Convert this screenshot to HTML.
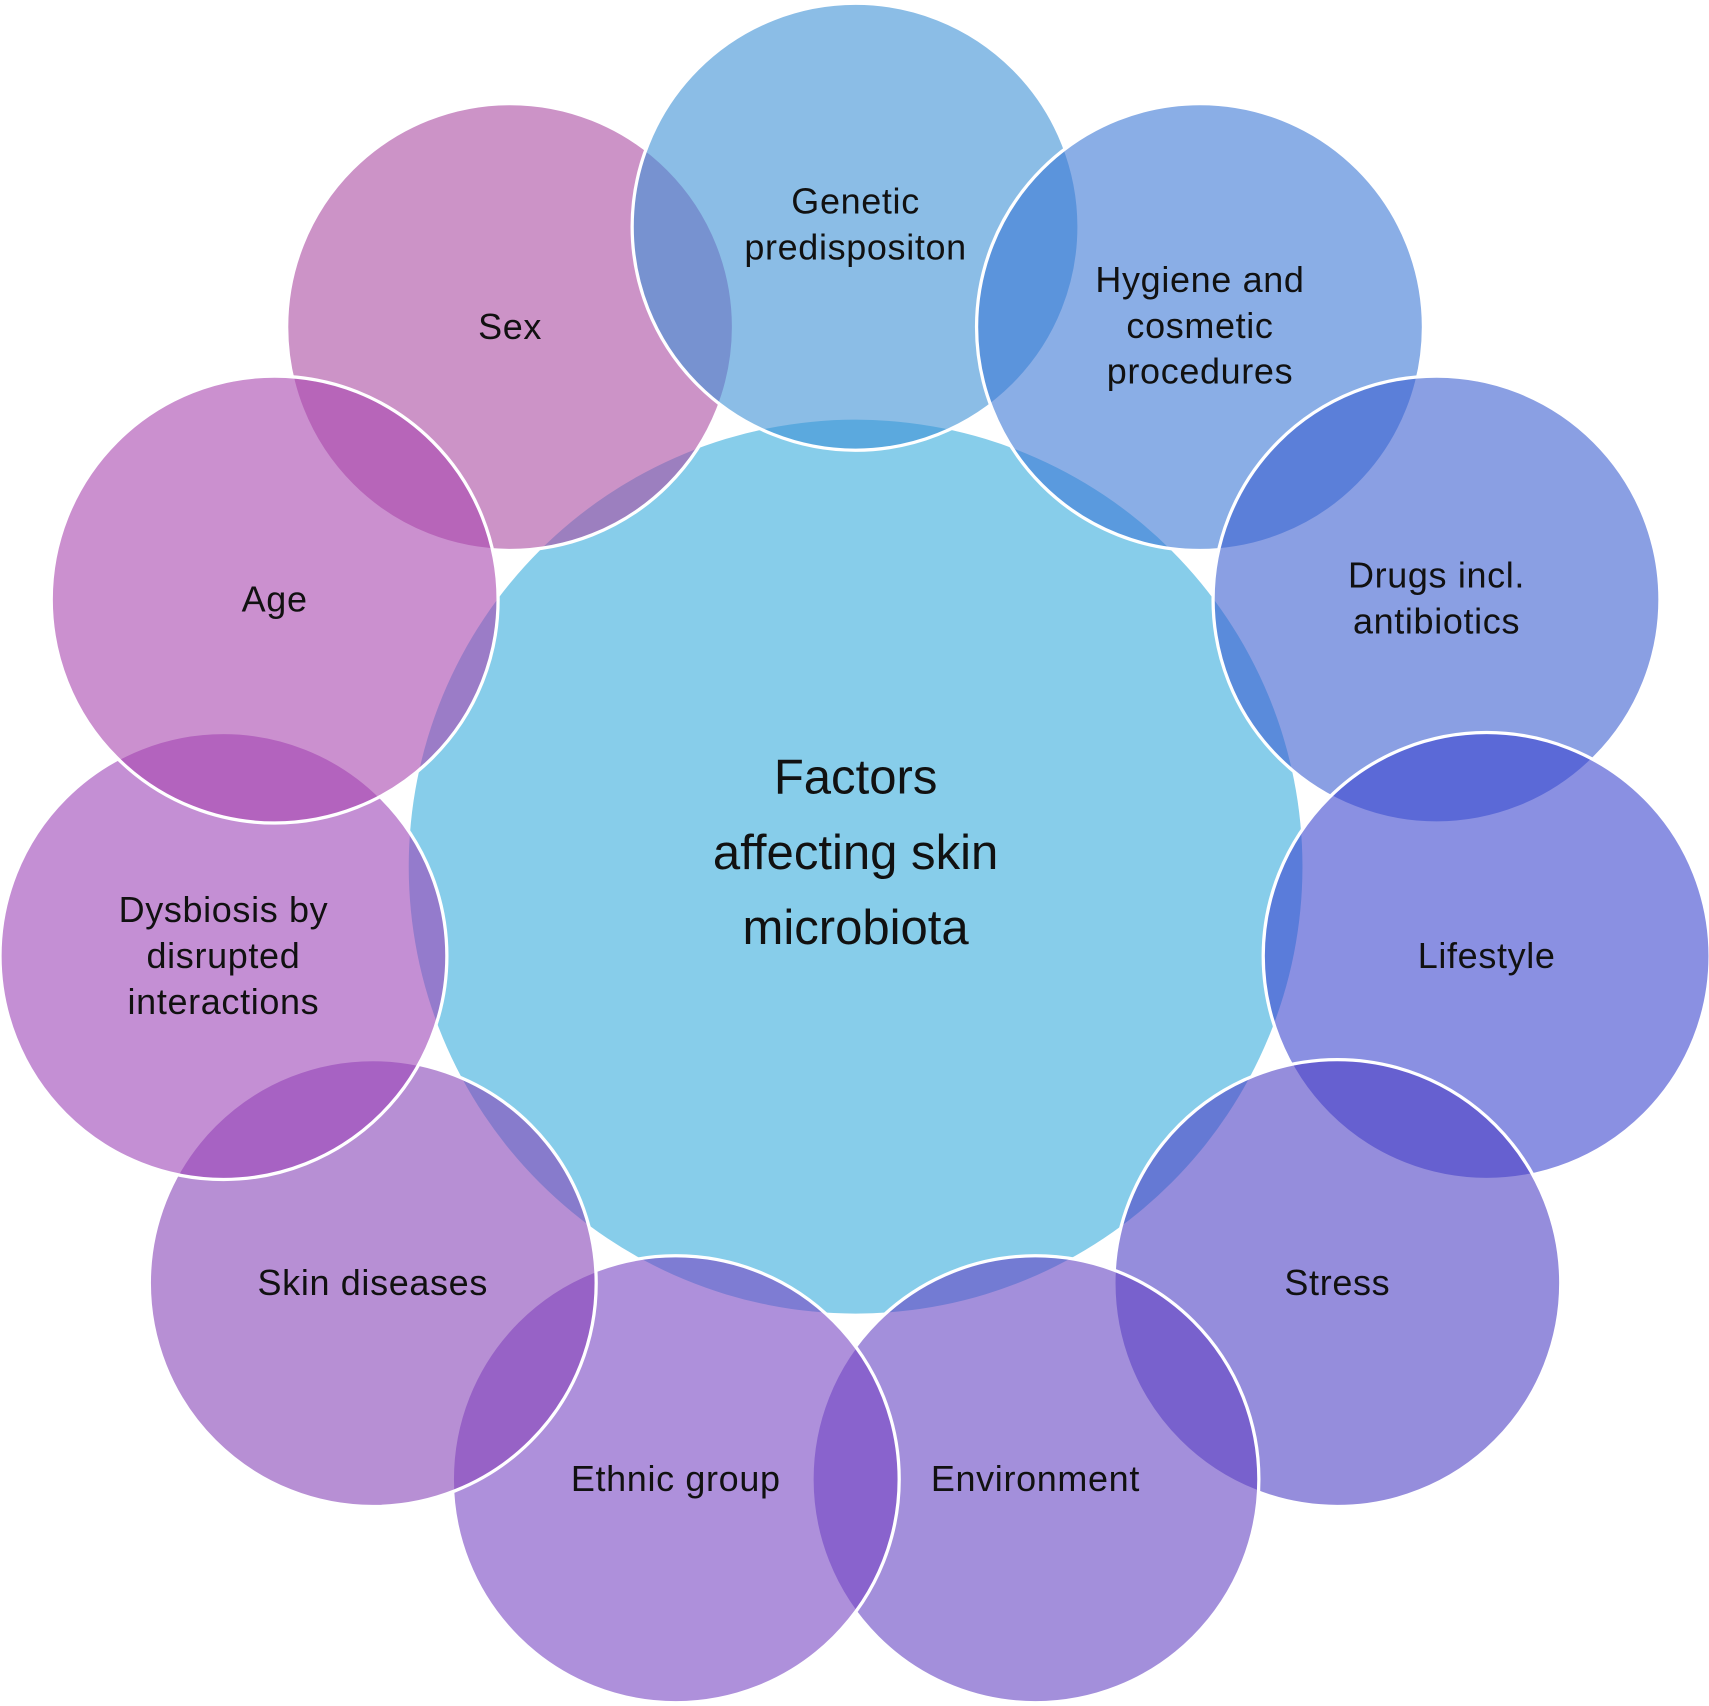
<!DOCTYPE html>
<html><head><style>html,body{margin:0;padding:0;background:#fff}svg{display:block}</style></head>
<body>
<svg width="1709" height="1706" viewBox="0 0 1568 1565" preserveAspectRatio="none" xmlns="http://www.w3.org/2000/svg" font-family="Liberation Sans, DejaVu Sans, sans-serif">
<circle cx="785" cy="795" r="410" fill="#87cdea"/>
<g stroke="#fff" stroke-width="3" fill-opacity="0.6">
<circle cx="468" cy="300" r="205" fill="#aa4ba2"/>
<circle cx="785" cy="208" r="205" fill="#3e91d5"/>
<circle cx="1101" cy="300" r="205" fill="#3c78d5"/>
<circle cx="1318" cy="550" r="205" fill="#3c5fd0"/>
<circle cx="1364" cy="877" r="205" fill="#3c46cf"/>
<circle cx="1227" cy="1177" r="205" fill="#4e41c5"/>
<circle cx="950" cy="1357" r="205" fill="#6644c3"/>
<circle cx="620" cy="1357" r="205" fill="#7846c3"/>
<circle cx="342" cy="1177" r="205" fill="#8744b7"/>
<circle cx="205" cy="877" r="205" fill="#9d44b7"/>
<circle cx="252" cy="550" r="205" fill="#a846af"/>
</g>
<g font-size="33" letter-spacing="0.6" fill="#111" text-anchor="middle">
<text x="785" y="196">Genetic</text><text x="785" y="238">predispositon</text>
<text x="1101" y="268">Hygiene and</text><text x="1101" y="310">cosmetic</text><text x="1101" y="352">procedures</text>
<text x="1318" y="539">Drugs incl.</text><text x="1318" y="581">antibiotics</text>
<text x="1364" y="888">Lifestyle</text>
<text x="1227" y="1188">Stress</text>
<text x="950" y="1368">Environment</text>
<text x="620" y="1368">Ethnic group</text>
<text x="342" y="1188">Skin diseases</text>
<text x="205" y="846">Dysbiosis by</text><text x="205" y="888">disrupted</text><text x="205" y="930">interactions</text>
<text x="252" y="561">Age</text>
<text x="468" y="311">Sex</text>
</g>
<g font-size="45" fill="#111" text-anchor="middle">
<text x="785" y="728">Factors</text><text x="785" y="797">affecting skin</text><text x="785" y="866">microbiota</text>
</g>
</svg>
</body></html>
